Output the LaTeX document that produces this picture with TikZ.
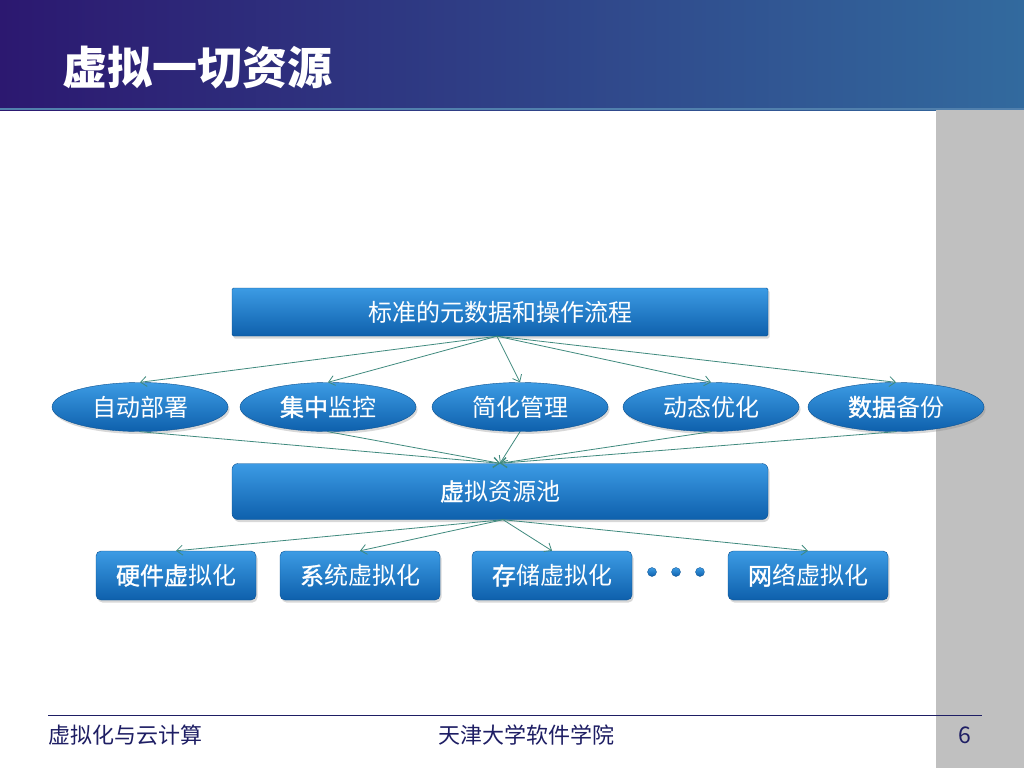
\documentclass[tikz,border=0pt]{standalone}
\usepackage{fontspec}
\setmainfont{Noto Sans CJK SC}
\newfontfamily\semib[FakeBold=1.3]{Noto Sans CJK SC}
\usetikzlibrary{shapes.geometric,shadows,arrows.meta}
\definecolor{hdrL}{RGB}{44,24,112}
\definecolor{hdrR}{RGB}{50,106,158}
\definecolor{boxT}{RGB}{60,155,228}
\definecolor{boxM}{RGB}{24,120,202}
\definecolor{boxB}{RGB}{14,96,172}
\definecolor{arr}{RGB}{64,138,126}
\definecolor{navy}{RGB}{30,30,100}
\definecolor{strip}{RGB}{192,192,192}
\begin{document}
\begin{tikzpicture}[x=1pt,y=-1pt,
  bluefill/.style={top color=boxT,middle color=boxM,bottom color=boxB,draw=boxB!85!black,line width=0.4pt,
    drop shadow={shadow xshift=1.5pt,shadow yshift=-2.5pt,opacity=0.3},
    text=white,font=\fontsize{24}{27}\selectfont,inner sep=0pt},
  wide/.style={bluefill,rectangle,minimum width=536pt},
  oval/.style={bluefill,ellipse,minimum width=176pt,minimum height=49pt},
  small/.style={bluefill,rectangle,rounded corners=5pt,minimum width=160pt,minimum height=49pt},
  dot/.style={circle,minimum size=9pt,inner sep=0pt,top color=boxT,bottom color=boxB,draw=boxB!85!black,line width=0.3pt},
  conn/.style={draw=arr,line width=0.8pt,-{Straight Barb[length=6pt,width=10pt]}},
  foot/.style={text=navy,font=\fontsize{22}{25}\selectfont}
]
\useasboundingbox (0,0) rectangle (1024,768);
\fill[white] (0,0) rectangle (1024,768);
% header
\shade[left color=hdrL,right color=hdrR] (0,0) rectangle (1024,110);
\fill[hdrR!85!white] (0,107.5) rectangle (1024,110);
% right strip
\fill[strip] (936,110) rectangle (1024,768);
% title
\node[anchor=west,text=white,font=\fontsize{45}{48}\selectfont\bfseries,inner sep=0pt] (title) at (62,68) {虚拟一切资源};

% top box
\node[wide,minimum height=48pt,rounded corners=1.5pt] (std) at (500,312) {标准的元数据和操作流程};
% ellipses
\node[oval] (e1) at (140,407) {自动部署};
\node[oval] (e2) at (328,407) {{\semib 集中}监控};
\node[oval] (e3) at (520,407) {简化管理};
\node[oval] (e4) at (711,407) {动态优化};
\node[oval] (e5) at (896,407) {{\semib 数据}备份};
% pool
\node[wide,minimum height=56pt,rounded corners=6pt] (pool) at (500,491.5) {{\semib 虚}拟资源池};
% bottom boxes
\node[small] (b1) at (176,575.5) {{\semib 硬件虚}拟化};
\node[small] (b2) at (360,575.5) {{\semib 系}统虚拟化};
\node[small] (b3) at (552,575.5) {{\semib 存}储虚拟化};
\node[small] (b4) at (808,575.5) {{\semib 网}络虚拟化};
\node[dot] (d1) at (652,572) {};
\node[dot] (d2) at (676,572) {};
\node[dot] (d3) at (700,572) {};

% connectors
\coordinate (s1) at ([xshift=-3pt]std.south);
\foreach \e in {e1,e2,e3,e4,e5}{\draw[conn] (s1) -- (\e.north);}
\foreach \e in {e1,e2,e3,e4,e5}{\draw[conn] (\e.south) -- (pool.north);}
\coordinate (s2) at ([xshift=3pt]pool.south);
\foreach \b in {b1,b2,b3,b4}{\draw[conn] (s2) -- (\b.north);}

% footer
\draw[navy,line width=1pt] (48,715) -- (982,715);
\node[foot,anchor=west,inner sep=0pt] (f1) at (48,735) {虚拟化与云计算};
\node[foot,anchor=center,inner sep=0pt] (f2) at (526,735) {天津大学软件学院};
\node[foot,anchor=center,inner sep=0pt,font=\fontsize{23}{26}\selectfont] (f3) at (965,735) {6};
\end{tikzpicture}
\end{document}
